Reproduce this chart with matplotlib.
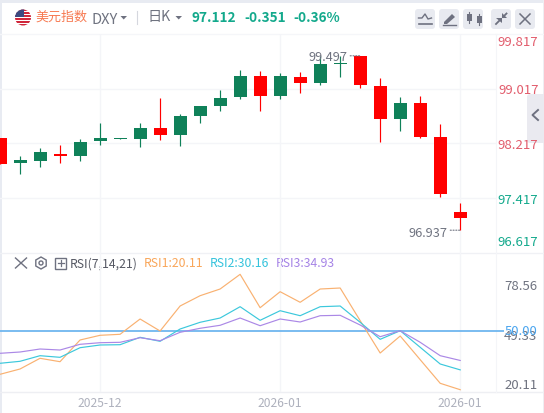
import matplotlib
matplotlib.use("Agg")
import matplotlib.pyplot as plt
from matplotlib.patches import FancyBboxPatch, Rectangle, Circle, Polygon, RegularPolygon

plt.rcParams['font.family'] = ['Noto Sans CJK SC', 'DejaVu Sans']

opens = [98.289, 97.921, 97.951, 98.054, 98.024, 98.245, 98.274, 98.274, 98.435, 98.333, 98.616, 98.759,
         98.891, 99.199, 98.905, 99.184, 99.096, 99.375, 99.497, 99.052, 98.568, 98.803, 98.303, 97.202]
highs = [98.289, 98.024, 98.142, 98.186, 98.274, 98.509, 98.289, 98.509, 98.876, 98.641, 98.759, 98.994,
         99.287, 99.273, 99.243, 99.258, 99.493, 99.490, 99.497, 99.170, 98.891, 98.905, 98.494, 97.334]
lows = [97.911, 97.760, 97.863, 97.921, 97.951, 98.186, 98.274, 98.156, 98.259, 98.171, 98.509, 98.685,
        98.861, 98.685, 98.861, 98.949, 99.067, 99.184, 99.023, 98.230, 98.391, 98.289, 97.422, 96.937]
closes = [97.911, 97.966, 98.083, 98.024, 98.230, 98.289, 98.289, 98.435, 98.333, 98.619, 98.759, 98.876,
          99.199, 98.905, 99.199, 99.096, 99.375, 99.390, 99.067, 98.568, 98.803, 98.303, 97.466, 97.112]

rsi1 = [27.91, 30.60, 36.02, 34.30, 45.29, 47.67, 48.18, 55.93, 49.85, 62.51, 67.73, 71.12,
        78.56, 61.65, 69.76, 64.39, 71.12, 71.63, 55.07, 38.70, 47.32, 35.31, 23.35, 20.11]
rsi2 = [33.49, 34.50, 37.34, 36.52, 41.39, 42.76, 42.91, 46.66, 44.63, 50.86, 54.26, 56.43,
        62.16, 55.27, 60.13, 57.60, 62.16, 62.51, 54.26, 45.64, 50.00, 41.59, 33.13, 30.16]
rsi3 = [38.55, 39.21, 40.73, 40.22, 43.11, 43.92, 44.12, 46.45, 44.93, 49.19, 51.22, 52.74,
        56.43, 52.53, 55.93, 54.41, 57.60, 57.80, 52.89, 46.96, 50.00, 44.12, 37.34, 34.93]
rsi_mid = 50.00

price_ticks = [99.817, 99.017, 98.217, 97.417, 96.617]
rsi_ticks = [78.56, 49.33, 20.11]
date_ticks = [5, 14, 23]
date_labels = ['2025-12', '2026-01', '2026-01']

W, H = 544, 414
RED, GREEN = '#ff0000', '#0f8159'
TEAL, PINK = '#13a98c', '#e25c6c'
GREY, ICON, GRID = '#6f7380', '#6e7180', '#f4f5f8'


def box(l, t, r, b):
    return [l / W, 1 - b / H, (r - l) / W, (b - t) / H]


fig = plt.figure(figsize=(W / 100, H / 100), dpi=100, facecolor='white')

# chrome layer in pixel space
ui = fig.add_axes([0, 0, 1, 1], zorder=0)
ui.set_xlim(0, W)
ui.set_ylim(H, 0)
ui.axis('off')
ui.add_patch(Rectangle((0, 0), W, 3.5, color='#e8ebf2', lw=0))
ui.add_patch(Rectangle((0, 0), 1.5, H, color='#e8ebf2', lw=0))
ui.add_patch(Rectangle((542.5, 0), 1.5, H, color='#eeeef2', lw=0))
ui.plot([0, 544], [35, 35], color='#f5f6f9', lw=1)
ui.plot([0, 544], [253.5, 253.5], color='#f0f1f5', lw=1)
ui.plot([0, 544], [393.5, 393.5], color='#eeeff3', lw=1)
ui.plot([496, 496], [35, 393], color=GRID, lw=0.8)
ui.plot([137, 137], [12, 25], color='#d5d7de', lw=0.8)

# collapse tab
ui.add_patch(FancyBboxPatch((527, 95), 22, 49, boxstyle='round,pad=0,rounding_size=3',
                            fc='#eaeaf0', ec='none'))
ui.plot([538, 532.5, 538], [111, 116, 121], color=ICON, lw=1.4)

# flag
flag = Circle((23, 18.5), 8, fc='white', ec='none')
ui.add_patch(flag)
for i, y in enumerate(range(10, 27, 3)):
    r = Rectangle((15, y), 16, 1.7, fc='#d0263a', ec='none')
    ui.add_patch(r)
    r.set_clip_path(flag)
canton = Rectangle((15, 10), 9, 8, fc='#3c4a80', ec='none')
ui.add_patch(canton)
canton.set_clip_path(flag)

ui.text(35, 17.5, '美元指数', color='#f77a52', fontsize=9.4, va='center', ha='left')
ui.text(91.5, 19.5, 'DXY', color=GREY, fontsize=10.5, va='center', ha='left')
ui.add_patch(Polygon([[120.5, 17], [127, 17], [123.7, 20.5]], fc=ICON, ec='none'))
ui.text(147, 17.5, '日K', color=GREY, fontsize=10.2, va='center', ha='left')
ui.add_patch(Polygon([[175.5, 17], [182, 17], [178.7, 20.5]], fc=ICON, ec='none'))
ui.text(192, 17.5, '97.112', color=TEAL, fontsize=9.8, fontweight='bold', va='center', ha='left')
ui.text(244, 17.5, '-0.351', color=TEAL, fontsize=9.8, fontweight='bold', va='center', ha='left')
ui.text(293, 17.5, '-0.36%', color=TEAL, fontsize=9.8, fontweight='bold', va='center', ha='left')

# toolbar buttons
for l in [415, 439, 463, 491, 515]:
    ui.add_patch(FancyBboxPatch((l, 10), 20, 20, boxstyle='round,pad=0,rounding_size=3',
                                fc='#e8eaf0', ec='none'))
ui.plot([418.5, 422, 425, 428, 431.5], [19, 19, 15, 20, 19], color=ICON, lw=1)
ui.plot([418.5, 431.5], [25, 25], color=ICON, lw=1.2)
ui.add_patch(Polygon([[444, 23], [452, 15], [455, 18], [447, 25], [444, 25]], fc=ICON, ec='none'))
ui.plot([443, 456], [25.5, 25.5], color=ICON, lw=1)
for x, t, b in [(469, 15, 22), (479, 17, 24)]:
    ui.plot([x, x], [t - 2, b + 2], color=ICON, lw=0.8)
    ui.add_patch(Rectangle((x - 2.5, t), 5, b - t, fc=ICON, ec='none'))
ui.plot([496, 499.5], [25, 21.5], color=ICON, lw=1.3)
ui.plot([503, 506.5], [18, 14.5], color=ICON, lw=1.3)
ui.add_patch(Polygon([[496, 18.5], [501.5, 18.5], [501.5, 24]], fc=ICON, ec='none'))
ui.add_patch(Polygon([[501.5, 13.5], [501.5, 19], [507, 19]], fc=ICON, ec='none'))
ui.plot([520, 530], [15, 25], color=ICON, lw=1.1)
ui.plot([520, 530], [25, 15], color=ICON, lw=1.1)

# RSI panel icons
ui.plot([15.5, 26.5], [259, 269], color=ICON, lw=1)
ui.plot([15.5, 26.5], [269, 259], color=ICON, lw=1)
ui.add_patch(RegularPolygon((41, 264), 6, radius=6, fc='none', ec=ICON, lw=1))
ui.add_patch(Circle((41, 264), 2, fc='none', ec=ICON, lw=1))
ui.add_patch(Rectangle((55, 258.5), 11, 11, fc='none', ec=ICON, lw=1))
ui.plot([57.5, 63.5], [264, 264], color=ICON, lw=0.9)
ui.plot([60.5, 60.5], [261, 267], color=ICON, lw=0.9)
ui.text(69.5, 264, 'RSI(7,14,21)', color='#555863', fontsize=8.8, va='center', ha='left')
ui.text(144, 264, 'RSI1:20.11', color='#f9a65a', fontsize=8.8, va='center', ha='left')
ui.text(210, 264, 'RSI2:30.16', color='#35c3dc', fontsize=8.8, va='center', ha='left')
ui.text(276, 264, 'RSI3:34.93', color='#a583e6', fontsize=8.8, va='center', ha='left')

# candlestick panel
ax = fig.add_axes(box(0, 35, 496, 253), zorder=1)
ax.patch.set_visible(False)
ax.set_xlim(0, 496 / 20.01)
ax.set_ylim(price_ticks[-1], price_ticks[0])
ax.set_xticks([])
ax.set_yticks([])
for s in ax.spines.values():
    s.set_visible(False)
for v in price_ticks[1:-1]:
    ax.axhline(v, color=GRID, lw=1, zorder=0)
for d in date_ticks:
    ax.axvline(d, color=GRID, lw=1, zorder=0)
for i, (o, h, l, c) in enumerate(zip(opens, highs, lows, closes)):
    col = GREEN if c >= o else RED
    ax.vlines(i, l, h, color=col, lw=0.85, zorder=2)
    ax.bar(i, abs(c - o), bottom=min(o, c), width=0.65, color=col, lw=0, zorder=3)

price_colors = [PINK, PINK, PINK, TEAL, TEAL]
price_off = [-7.5, -1, -1.5, -2, 10]
for v, col, off in zip(price_ticks, price_colors, price_off):
    ax.annotate(f'{v:.3f}', xy=(1, v), xycoords=('axes fraction', 'data'), xytext=(42.5, off),
                textcoords='offset pixels', ha='right', va='center', color=col, fontsize=9.5,
                annotation_clip=False)

imax = highs.index(max(highs))
imin = lows.index(min(lows))
ax.annotate(f'{highs[imax]:.3f}', xy=(imax, highs[imax]), xytext=(-13, -1), textcoords='offset pixels',
            ha='right', va='center', color=GREY, fontsize=9.2, zorder=5)
ax.annotate('', xy=(imax, highs[imax]), xytext=(-10, 0), textcoords='offset pixels',
            arrowprops=dict(arrowstyle='-', color=GREY, lw=0.8, ls=(0, (1, 1.5)), shrinkA=0, shrinkB=0))
ax.annotate(f'{lows[imin]:.3f}', xy=(imin, lows[imin]), xytext=(-13, -2), textcoords='offset pixels',
            ha='right', va='center', color=GREY, fontsize=9.2, zorder=5)
ax.annotate('', xy=(imin, lows[imin]), xytext=(-10, 0), textcoords='offset pixels',
            arrowprops=dict(arrowstyle='-', color=GREY, lw=0.8, ls=(0, (1, 1.5)), shrinkA=0, shrinkB=0))

# RSI panel
rx = fig.add_axes(box(0, 253, 496, 393), zorder=1)
rx.patch.set_visible(False)
rx.set_xlim(0, 496 / 20.01)
rx.set_ylim(18.95, 89.87)
rx.set_yticks([])
for s in rx.spines.values():
    s.set_visible(False)
for d in date_ticks:
    rx.axvline(d, color=GRID, lw=1, zorder=0)
xs = list(range(len(rsi1)))
rx.plot(xs, rsi1, color='#f9b171', lw=0.85, zorder=3)
rx.plot(xs, rsi2, color='#3cc8dc', lw=0.85, zorder=3)
rx.plot(xs, rsi3, color='#ab88e6', lw=0.85, zorder=3)
rx.hlines(rsi_mid, 0, 25.2, color='#6fb6ef', lw=1.3, zorder=2, clip_on=False)
rsi_off = [-11.5, -3.5, 5.5]
for v, off in zip(rsi_ticks, rsi_off):
    rx.annotate(f'{v:.2f}', xy=(1, v), xycoords=('axes fraction', 'data'), xytext=(41.5, off),
                textcoords='offset pixels', ha='right', va='center', color=GREY, fontsize=9.5,
                annotation_clip=False)
rx.annotate(f'{rsi_mid:.2f}', xy=(1, rsi_mid), xycoords=('axes fraction', 'data'), xytext=(41.5, 0),
            textcoords='offset pixels', ha='right', va='center', color='#4aa5ef', fontsize=9.5,
            annotation_clip=False)
rx.set_xticks(date_ticks)
rx.set_xticklabels(date_labels, color='#aeb1bd', fontsize=8.7)
rx.tick_params(axis='x', length=0, pad=3)

fig.savefig('out.png', dpi=100, facecolor='white')
